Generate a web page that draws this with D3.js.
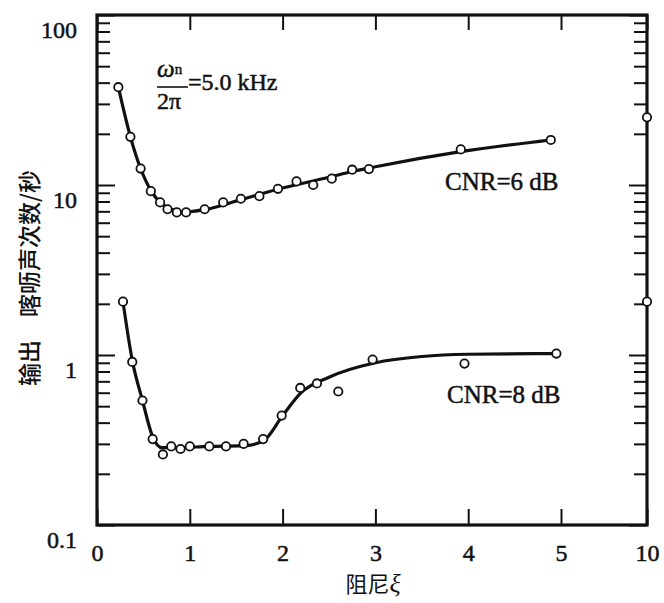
<!DOCTYPE html>
<html>
<head>
<meta charset="utf-8">
<script src="https://cdn.jsdelivr.net/npm/d3@7"></script>
<style>
  html, body { margin: 0; padding: 0; background: #fff; }
  svg { display: block; }
</style>
</head>
<body>
<svg id="chart" width="664" height="603"></svg>
<script>
// Measured click rates (clicks per second) versus damping ratio
const dampingCnr6 = [0.23, 0.36, 0.47, 0.58, 0.68, 0.76, 0.86, 0.96, 1.16, 1.36, 1.55, 1.75, 1.95, 2.15, 2.33, 2.53, 2.75, 2.93, 3.92, 4.89, 10];
const clicksCnr6  = [37.6, 19.2, 12.5, 9.2, 7.9, 7.2, 6.9, 6.9, 7.2, 7.9, 8.3, 8.6, 9.5, 10.5, 10.0, 10.9, 12.3, 12.4, 16.2, 18.4, 25.0];

const dampingCnr8 = [0.28, 0.38, 0.49, 0.60, 0.71, 0.80, 0.90, 1.00, 1.21, 1.39, 1.58, 1.79, 1.99, 2.19, 2.37, 2.60, 2.97, 3.96, 4.95, 10];
const clicksCnr8  = [2.06, 0.91, 0.54, 0.32, 0.26, 0.29, 0.28, 0.29, 0.29, 0.29, 0.30, 0.32, 0.44, 0.64, 0.68, 0.61, 0.94, 0.89, 1.02, 2.06];

// Smoothed trend curves
const fitDampingCnr6 = [0.23, 0.36, 0.47, 0.58, 0.68, 0.80, 0.95, 1.15, 1.55, 1.95, 2.50, 2.75, 3.00, 3.92, 4.89];
const fitClicksCnr6  = [37.6, 19.2, 12.5, 9.3, 7.9, 7.2, 6.95, 7.15, 8.2, 9.45, 11.1, 12.0, 12.8, 15.7, 18.4];

const fitDampingCnr8 = [0.28, 0.38, 0.49, 0.60, 0.70, 0.85, 1.20, 1.60, 1.80, 2.00, 2.20, 2.50, 3.00, 3.50, 4.00, 4.95];
const fitClicksCnr8  = [2.06, 0.93, 0.54, 0.33, 0.285, 0.285, 0.29, 0.293, 0.315, 0.44, 0.60, 0.74, 0.90, 0.98, 1.01, 1.02];

// Axis ticks
const xTickValues = [0, 1, 2, 3, 4, 5, 10];
const yMajorTicks = [0.1, 1, 10, 100];
const yTickLabels = ["0.1", "1", "10", "100"];
const yMinorTicks = [0.1, 1, 10].flatMap(d => [2, 3, 4, 5, 6, 7, 8, 9].map(m => +(m * d).toPrecision(3)));

const curveLabels = ["CNR=6 dB", "CNR=8 dB"];
const yTitle = "输出\u3000喀呖声次数/秒";
const xTitle = "阻尼";

const SERIF = '"Liberation Serif", "Times New Roman", serif';
const CJK = '"Noto Sans CJK SC", "Noto Sans CJK JP", sans-serif';
const INK = "#111";

const svg = d3.select("#chart");
const plotLeft = 97, plotRight = 647, plotTop = 15, plotBottom = 525;

// Broken axis: 0–5 linear, then a compressed jump to 10
const x = d3.scaleLinear().domain([0, 5, 10]).range([plotLeft, 561, plotRight]);
const y = d3.scaleLog().domain([0.1, 100]).range([plotBottom, plotTop]);

const g = svg.append("g");

function styleAxis(sel, width) {
  sel.attr("font-family", null).attr("font-size", null);
  sel.select(".domain").remove();
  sel.selectAll(".tick line").attr("stroke", INK).attr("stroke-width", width);
}
function serifText(sel, size) {
  sel.style("font-family", SERIF).style("font-size", size + "px")
     .attr("fill", INK).attr("stroke", INK).attr("stroke-width", 0.5);
}

// Bottom axis with labels
g.append("g").attr("transform", `translate(0,${plotBottom})`)
  .call(d3.axisBottom(x).tickValues(xTickValues).tickFormat(d3.format("d"))
        .tickSizeInner(-16).tickSizeOuter(0).tickPadding(19))
  .call(s => styleAxis(s, 2))
  .call(s => s.selectAll("text").call(serifText, 24));

// Top axis (mirror, inward ticks)
g.append("g").attr("transform", `translate(0,${plotTop})`)
  .call(d3.axisTop(x).tickValues(xTickValues).tickFormat("").tickSizeInner(-15).tickSizeOuter(0))
  .call(s => styleAxis(s, 2));

// Left axis: major ticks with labels, minor ticks unlabeled
g.append("g").attr("transform", `translate(${plotLeft},0)`)
  .call(d3.axisLeft(y).tickValues(yMajorTicks).tickFormat((d, i) => yTickLabels[i])
        .tickSizeInner(-18).tickSizeOuter(0).tickPadding(20))
  .call(s => styleAxis(s, 2))
  .call(s => s.selectAll("text").call(serifText, 24).attr("dy", "0.95em"));
g.append("g").attr("transform", `translate(${plotLeft},0)`)
  .call(d3.axisLeft(y).tickValues(yMinorTicks).tickFormat("").tickSizeInner(-13).tickSizeOuter(0))
  .call(s => styleAxis(s, 2));

// Right axis mirror
g.append("g").attr("transform", `translate(${plotRight},0)`)
  .call(d3.axisRight(y).tickValues(yMajorTicks).tickFormat("").tickSizeInner(-18).tickSizeOuter(0))
  .call(s => styleAxis(s, 2));
g.append("g").attr("transform", `translate(${plotRight},0)`)
  .call(d3.axisRight(y).tickValues(yMinorTicks).tickFormat("").tickSizeInner(-13).tickSizeOuter(0))
  .call(s => styleAxis(s, 2));

// Frame
g.append("rect").attr("x", plotLeft).attr("y", plotTop)
  .attr("width", plotRight - plotLeft).attr("height", plotBottom - plotTop)
  .attr("fill", "none").attr("stroke", INK).attr("stroke-width", 3.2);

// Trend curves
const line = d3.line().x(d => x(d[0])).y(d => y(d[1])).curve(d3.curveMonotoneX);
const fits = [
  d3.zip(fitDampingCnr6, fitClicksCnr6),
  d3.zip(fitDampingCnr8, fitClicksCnr8)
];
g.selectAll("path.fit").data(fits).join("path").attr("class", "fit")
  .attr("d", line).attr("fill", "none").attr("stroke", INK)
  .attr("stroke-width", 3.2).attr("stroke-linejoin", "round");

// Measured points
const points = [
  ...d3.zip(dampingCnr6, clicksCnr6),
  ...d3.zip(dampingCnr8, clicksCnr8)
];
g.selectAll("circle.pt").data(points).join("circle").attr("class", "pt")
  .attr("cx", d => x(d[0])).attr("cy", d => y(d[1])).attr("r", 4.2)
  .attr("fill", "#fff").attr("stroke", INK).attr("stroke-width", 1.8);

// Curve labels
const labelPos = [[445, 190], [447, 403]];
g.selectAll("text.cnr").data(curveLabels).join("text").attr("class", "cnr")
  .attr("x", (d, i) => labelPos[i][0]).attr("y", (d, i) => labelPos[i][1])
  .call(serifText, 25).text(d => d);

// Natural frequency annotation: ω_n / 2π = 5.0 kHz
const num = g.append("text").attr("x", 157).attr("y", 77).call(serifText, 25);
num.append("tspan").style("font-style", "italic").text("ω");
num.append("tspan").style("font-size", "15px").attr("dy", -3).text("n");
g.append("line").attr("x1", 157).attr("x2", 188).attr("y1", 87).attr("y2", 87)
  .attr("stroke", INK).attr("stroke-width", 1.6);
g.append("text").attr("x", 157).attr("y", 109).call(serifText, 24).text("2π");
g.append("text").attr("x", 188).attr("y", 90).call(serifText, 24).text("=5.0 kHz");

// Axis titles
svg.append("text")
  .attr("transform", "translate(28,278) rotate(-90)")
  .attr("text-anchor", "middle").attr("dominant-baseline", "central")
  .style("font-family", CJK).style("font-size", "23px").style("font-weight", 500)
  .attr("fill", INK).text(yTitle);

const xt = svg.append("text")
  .attr("x", 373).attr("y", 592).attr("text-anchor", "middle")
  .style("font-family", CJK).style("font-size", "22px").attr("fill", INK);
xt.append("tspan").text(xTitle);
xt.append("tspan").style("font-family", SERIF).style("font-style", "italic")
  .style("font-size", "26px").text("ξ");
</script>
</body>
</html>
